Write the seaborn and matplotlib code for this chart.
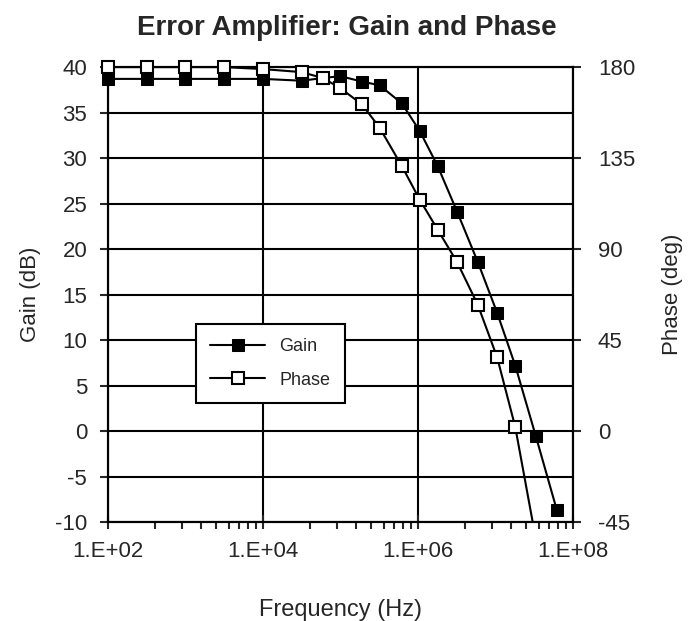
import matplotlib
matplotlib.use('Agg')
import matplotlib.pyplot as plt
import matplotlib.ticker as mticker
import numpy as np
import seaborn as sns

# frequency points (Hz)
freq_hz = [1e2, 3.16e2, 1e3, 3.16e3, 1e4, 3.16e4, 6e4, 1e5, 1.9e5, 3.2e5,
           6.2e5, 1.05e6, 1.8e6, 3.2e6, 5.9e6, 1.05e7, 1.8e7, 3.3e7, 6.2e7]
gain_db = [38.7, 38.7, 38.7, 38.7, 38.7, 38.5, 38.8, 39.0, 38.4, 38.0,
           36.0, 33.0, 29.1, 24.1, 18.6, 13.0, 7.2, -0.5, -8.7]
phase_deg = [180.0, 180.0, 180.0, 180.0, 179.0, 177.5, 174.5, 169.5, 161.5, 150.0,
             131.0, 114.5, 99.5, 83.5, 62.5, 36.5, 2.0, -53.0, -95.0]

gain_ticks = [-10, -5, 0, 5, 10, 15, 20, 25, 30, 35, 40]
phase_ticks = [-45, 0, 45, 90, 135, 180]
freq_ticks = [1e2, 1e4, 1e6, 1e8]
freq_labels = ['1.E+02', '1.E+04', '1.E+06', '1.E+08']

sns.set_style('white')
plt.rcParams['font.family'] = ['Liberation Sans', 'DejaVu Sans']
plt.rcParams['axes.unicode_minus'] = False

fig = plt.figure(figsize=(6.94, 6.21), dpi=100)
ax = fig.add_axes([0.1556, 0.1594, 0.670, 0.7326])
ax2 = ax.twinx()

sns.lineplot(x=freq_hz, y=gain_db, ax=ax, color='black', linewidth=1.5,
             marker='s', markersize=8, markerfacecolor='black',
             markeredgecolor='black', label='Gain', legend=False, clip_on=False)

# phase line is clipped at the axis floor, markers are not (Excel style)
sns.lineplot(x=freq_hz, y=phase_deg, ax=ax2, color='black', linewidth=1.5,
             legend=False)
fq = np.array(freq_hz)
ph = np.array(phase_deg)
vis = ph >= -45
ax2.plot(fq[vis], ph[vis], linestyle='none', marker='s', markersize=8,
         markerfacecolor='white', markeredgecolor='black', markeredgewidth=1.5,
         clip_on=False, zorder=5)
phase_handle = plt.Line2D([], [], color='black', linewidth=1.5, marker='s',
                          markersize=8, markerfacecolor='white',
                          markeredgecolor='black', markeredgewidth=1.5)

ax.set_xscale('log')
ax.set_xlim(1e2, 1e8)
ax.set_ylim(-10, 40)
ax2.set_ylim(-45, 180)

ax.xaxis.set_major_locator(mticker.FixedLocator(freq_ticks))
ax.xaxis.set_major_formatter(mticker.FixedFormatter(freq_labels))
# Excel-style minor ticks: k^2 steps across each two-decade major unit
minor = [10 ** e * k ** 2 for e in (2, 4, 6) for k in range(2, 10)]
ax.xaxis.set_minor_locator(mticker.FixedLocator(minor))
ax.xaxis.set_minor_formatter(mticker.NullFormatter())
ax.set_yticks(gain_ticks)
ax2.set_yticks(phase_ticks)

ax.grid(True, which='major', color='black', linewidth=1.5)
ax.grid(False, which='minor')
for a in (ax, ax2):
    for s in a.spines.values():
        s.set_color('black')
        s.set_linewidth(1.5)

ax.tick_params(axis='x', which='major', direction='inout', length=10, width=1.5,
               labelsize=16, pad=9, bottom=True)
ax.tick_params(axis='x', which='minor', direction='out', length=5, width=1.5, bottom=True)
ax.tick_params(axis='y', direction='out', length=6, width=1.5, labelsize=16, left=True, pad=9)
ax2.tick_params(axis='y', direction='out', length=6, width=1.5, labelsize=16, right=True, pad=12)

ax.set_xlabel('Frequency (Hz)', fontsize=17, labelpad=26)
ax.set_ylabel('Gain (dB)', fontsize=16, labelpad=10)
ax2.set_ylabel('Phase (deg)', fontsize=16, labelpad=19)
fig.suptitle('Error Amplifier: Gain and Phase', fontsize=20, fontweight='bold', y=0.976)

h1, l1 = ax.get_legend_handles_labels()
leg = ax2.legend(h1 + [phase_handle], l1 + ['Phase'], loc='upper left',
                 bbox_to_anchor=(196 / 694, 1 - 324 / 621),
                 bbox_transform=fig.transFigure, fontsize=13, frameon=True,
                 fancybox=False, edgecolor='black', framealpha=1,
                 handlelength=3, borderpad=0.8, labelspacing=0.9,
                 borderaxespad=0)
leg.get_frame().set_linewidth(1.5)

fig.savefig('out.png', dpi=100, facecolor='white')
